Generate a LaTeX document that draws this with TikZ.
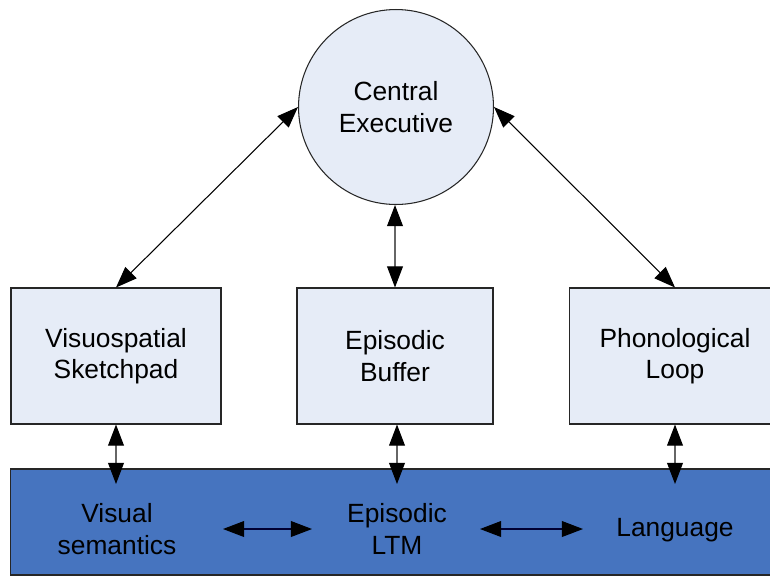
\documentclass[tikz,border=0pt]{standalone}
\usepackage{fontspec}
\setmainfont{Liberation Sans}
\usetikzlibrary{arrows.meta}
\definecolor{storefill}{HTML}{E6ECF7}
\definecolor{ltmfill}{HTML}{4674BF}
\begin{document}
\begin{tikzpicture}[
  x = 0.02cm,
  y = -0.02cm,
  every node/.style = {
    font = \fontsize{15}{18}\selectfont,
    align = center,
    inner sep = 0pt
  },
  store/.style = {
    draw = black!85,
    fill = storefill,
    line width = 0.6pt,
    minimum height = 2.72cm
  },
  exec/.style = {
    shape = circle,
    draw = black!85,
    fill = storefill,
    line width = 0.6pt,
    minimum size = 3.9cm
  },
  link/.style = {
    {Triangle[length = 12pt, width = 9pt, color = black]}-{Triangle[length = 12pt, width = 9pt, color = black]},
    line width = 0.6pt
  }
]
  \useasboundingbox (0, 0) rectangle (770, 576);

  % long-term memory bar
  \node[draw = black!85, fill = ltmfill, line width = 0.6pt,
        minimum width = 15.5cm, minimum height = 2.12cm] (ltm) at (398, 522) {};
  \node (vsem) at (117, 529) {Visual\\semantics};
  \node (eltm) at (397, 529) {Episodic\\LTM};
  \node (lang) at (675, 530) {Language};

  % central executive and slave systems
  \node[exec] (ce) at (396, 107) {Central\\Executive};
  \node[store, minimum width = 4.2cm] (vs) at (116, 356) {Visuospatial\\Sketchpad};
  \node[store, minimum width = 3.92cm] (eb) at (395, 356) {Episodic\\Buffer};
  \node[store, minimum width = 4.24cm] (pl) at (675, 356) {Phonological\\Loop};

  \coordinate (vsin) at (116, 484);
  \coordinate (ebin) at (397, 484);
  \coordinate (plin) at (675, 484);
  \coordinate (h1a) at (223, 529);
  \coordinate (h1b) at (312, 529);
  \coordinate (h2a) at (480, 529);
  \coordinate (h2b) at (583, 529);

  \draw[link] (ce.west) -- (vs.north);
  \draw[link] (ce.east) -- (pl.north);
  \draw[link, draw = black!60] (ce.south -| eb.north) -- (eb.north);
  \draw[link, draw = black!60] (vs.south) -- (vsin);
  \draw[link, draw = black!60] (eb.south -| ebin) -- (ebin);
  \draw[link, draw = black!60] (pl.south) -- (plin);
  \draw[link, draw = black!80!blue] (h1a) -- (h1b);
  \draw[link, draw = black!80!blue] (h2a) -- (h2b);
\end{tikzpicture}
\end{document}
